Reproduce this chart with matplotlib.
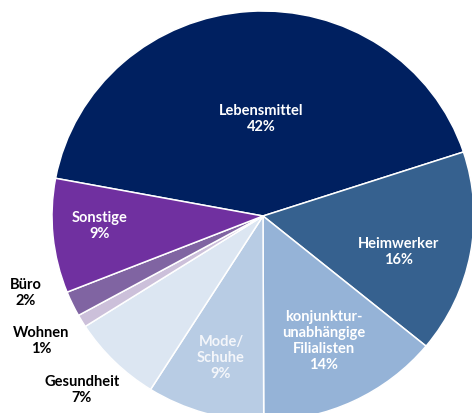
import matplotlib.pyplot as plt

# Data
labels = ['Lebensmittel', 'Heimwerker', 'konjunktur-\nunabhängige\nFilialisten',
          'Mode/\nSchuhe', 'Gesundheit', 'Wohnen', 'Büro', 'Sonstige']
shares = [42, 16, 14, 9, 7, 1, 2, 9]
colors = ['#002060', '#36618F', '#95B3D7', '#B8CCE4', '#DCE6F2', '#CCC0DA', '#8064A2', '#7030A0']
text_colors = ['white', 'white', 'white', '#F4F6FA', 'black', 'black', 'black', 'white']

# label positions (pixels from top-left)
label_pos = [(261, 119), (399, 252), (324, 341), (221, 358),
             (82, 390), (41, 341), (26, 293), (100, 226)]

W, H = 472, 414
cx, cy = 263, 217      # pie centre in pixels
rx, ry = 211, 205      # horizontal / vertical radius in pixels

fig = plt.figure(figsize=(W / 100, H / 100), dpi=100)
ax = fig.add_axes([0, 0, 1, 1])

ax.pie(shares, colors=colors, startangle=169.4, counterclock=False,
       wedgeprops=dict(edgecolor='white', linewidth=1.1))
ax.set_aspect('auto')
ax.set_xlim(-cx / rx, (W - cx) / rx)
ax.set_ylim(-(H - cy) / ry, cy / ry)
ax.axis('off')

for lab, val, (x, y), tc in zip(labels, shares, label_pos, text_colors):
    ax.text((x - cx) / rx, (cy - y) / ry, f'{lab}\n{val}%', ha='center', va='center',
            color=tc, fontsize=10.5, fontweight='bold', family=['Lato', 'DejaVu Sans'],
            linespacing=1.2)

fig.savefig('out.png', dpi=100)
